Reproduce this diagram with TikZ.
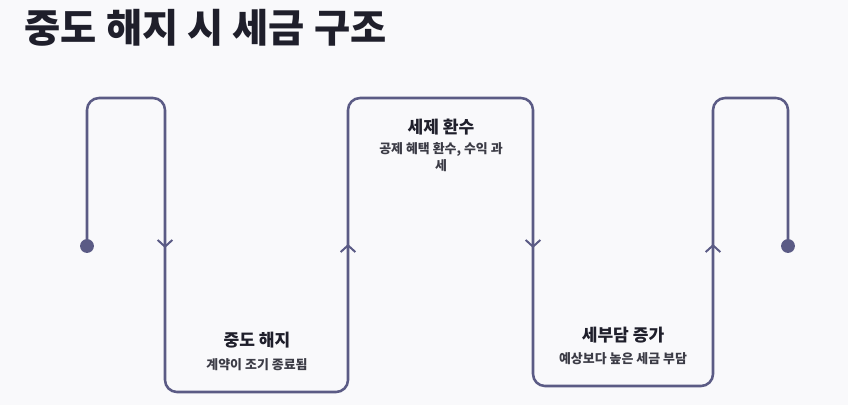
\documentclass[tikz,border=0pt]{standalone}
\usepackage{fontspec}
\setmainfont{Noto Sans CJK KR}
\usetikzlibrary{arrows.meta}

\definecolor{routecol}{HTML}{5B5B85}
\definecolor{bgcol}{HTML}{F9F9FB}
\definecolor{titlecol}{HTML}{1F1F2B}
\definecolor{notecol}{HTML}{3C3C46}

\tikzset{
  route/.style={draw=routecol,line width=1.9pt,rounded corners=9pt},
  chevron/.style={draw=routecol,line width=1.5pt,-{Straight Barb[width=11pt,length=5pt]}},
  enddot/.style={fill=routecol},
  headline/.style={font=\bfseries\fontsize{29.5}{34}\selectfont,text=titlecol,anchor=west},
  stagetitle/.style={font=\bfseries\fontsize{12.8}{15}\selectfont,text=titlecol},
  stagenote/.style={font=\bfseries\fontsize{9.7}{13}\selectfont,text=notecol,align=center},
}

\begin{document}
\begin{tikzpicture}[x=0.75pt,y=-0.75pt]
  % Page area and background
  \fill[bgcol] (0,0) rectangle (848,405);
  \useasboundingbox (0,0) rectangle (848,405);

  % Title
  \node[headline] (title) at (20,28) {중도 해지 시 세금 구조};

  % Corners of the winding route
  \coordinate (start) at (87,246);
  \coordinate (p1) at (87,98);
  \coordinate (p2) at (165,98);
  \coordinate (p3) at (165,392);
  \coordinate (p4) at (348,392);
  \coordinate (p5) at (348,98);
  \coordinate (p6) at (533,98);
  \coordinate (p7) at (533,386);
  \coordinate (p8) at (713,386);
  \coordinate (p9) at (713,98);
  \coordinate (p10) at (788,98);
  \coordinate (finish) at (788,246);

  % The route itself
  \draw[route] (start) -- (p1) -- (p2) -- (p3) -- (p4) -- (p5) -- (p6)
    -- (p7) -- (p8) -- (p9) -- (p10) -- (finish);

  % Start and end marks
  \fill[enddot] (start) circle(5.2pt);
  \fill[enddot] (finish) circle(5.2pt);

  % Direction marks on the verticals
  \coordinate (d1) at (165,248);
  \coordinate (d2) at (348,244);
  \coordinate (d3) at (533,248);
  \coordinate (d4) at (713,244);
  \draw[chevron] (165,238) -- (d1);
  \draw[chevron] (348,254) -- (d2);
  \draw[chevron] (533,238) -- (d3);
  \draw[chevron] (713,254) -- (d4);

  % Stage labels
  \node[stagetitle] (cancel) at (257,340) {중도 해지};
  \node[stagenote] (cancelnote) at (257,365) {계약이 조기 종료됨};

  \node[stagetitle] (reclaim) at (441,127) {세제 환수};
  \node[stagenote] (reclaimnote) at (441,157) {공제 혜택 환수, 수익 과\\세};

  \node[stagetitle] (burden) at (623,335) {세부담 증가};
  \node[stagenote] (burdennote) at (623,359) {예상보다 높은 세금 부담};
\end{tikzpicture}
\end{document}
